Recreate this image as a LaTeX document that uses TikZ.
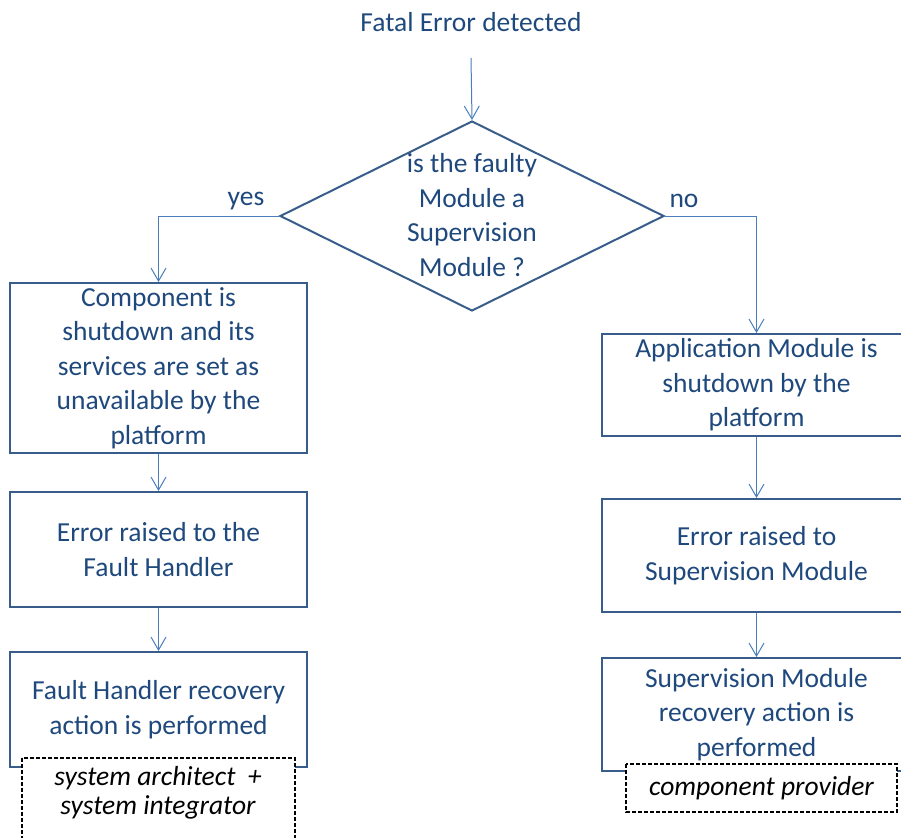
\documentclass[tikz,border=0pt]{standalone}
\usepackage{fontspec}
\setmainfont{Carlito}
\usetikzlibrary{shapes.geometric,arrows.meta}
\definecolor{txtblue}{HTML}{1F497D}
\definecolor{boxblue}{HTML}{385D8A}
\definecolor{arrblue}{HTML}{4A7EBB}
\tikzset{
  txt/.style={text=txtblue, align=center, inner sep=0pt,
    font=\fontsize{27.5}{34.5}\selectfont},
  stepbox/.style={draw=boxblue, line width=2pt, fill=white, inner sep=0pt,
    align=center, text=txtblue, font=\fontsize{27.5}{34.5}\selectfont},
  decision/.style={diamond, draw=boxblue, line width=2pt, inner sep=0pt,
    minimum width=384pt, minimum height=190pt},
  arr/.style={draw=arrblue, line width=1pt,
    -{Straight Barb[length=13pt,width=15pt,line width=1pt]}},
  rolebox/.style={draw=black, fill=white, line width=1.2pt, dash pattern=on 4pt off 2pt},
  roletxt/.style={text=black, align=center, inner sep=0pt,
    font=\fontsize{27.5}{29}\selectfont\itshape},
}
\begin{document}
\begin{tikzpicture}[x=1pt,y=-1pt]
\useasboundingbox (0,0) rectangle (901,837);

% start and decision
\node[txt] (fatal) at (471,22) {Fatal Error detected};
\node[decision] (dec) at (472,216) {};
\node[txt] (decq) at (472,215) {is the faulty\\Module a\\Supervision\\Module ?};
\node[txt, anchor=base] (yes) at (246,205) {yes};
\node[txt, anchor=base] (no) at (684,207) {no};

% left branch
\node[stepbox, minimum width=297pt, minimum height=170pt] (compL) at (158.5,368)
  {Component is\\shutdown and its\\services are set as\\unavailable by the\\platform};
\node[stepbox, minimum width=297pt, minimum height=115pt] (errL) at (158.5,549.5)
  {Error raised to the\\Fault Handler};
\node[stepbox, minimum width=297pt, minimum height=115pt] (recL) at (158.5,709.5)
  {Fault Handler recovery\\action is performed};

% right branch
\node[stepbox, minimum width=309pt, minimum height=102pt] (appR) at (756.5,385)
  {Application Module is\\shutdown by the\\platform};
\node[stepbox, minimum width=309pt, minimum height=113pt] (errR) at (756.5,555.5)
  {Error raised to\\Supervision Module};
\node[stepbox, minimum width=309pt, minimum height=113pt] (recR) at (756.5,714.5)
  {Supervision Module\\recovery action is\\performed};

% role boxes
\path[rolebox] (22,758) rectangle (295,860);
\node[roletxt] (roleL) at (158,793) {system architect~~+\\system integrator};
\path[rolebox] (626,764) rectangle (897,812);
\node[roletxt] (roleR) at (761.5,788) {component provider};

% connectors
\draw[arr] (fatal.south) ++(0,26) -- (dec.north);
\draw[arr] (dec.west) -| (compL.north);
\draw[arr] (dec.east) -| (appR.north);
\draw[arr] (compL.south) -- (errL.north);
\draw[arr] (errL.south) -- (recL.north);
\draw[arr] (appR.south) -- (errR.north);
\draw[arr] (errR.south) -- (recR.north);
\end{tikzpicture}
\end{document}
